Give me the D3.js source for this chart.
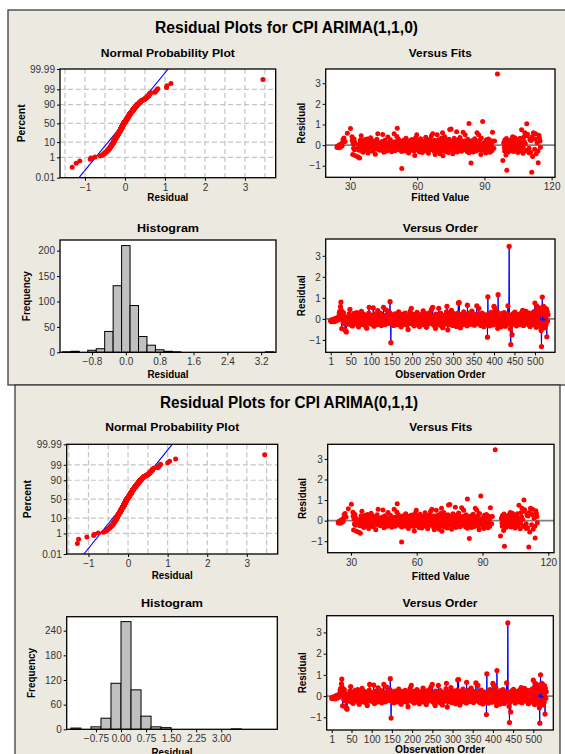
<!DOCTYPE html>
<html>
<head>
<meta charset="utf-8">
<title>Residual Plots for CPI</title>
<script src="https://cdn.jsdelivr.net/npm/d3@7"></script>
<style>
    body { margin: 0; background: #ffffff; }
    #residual-plots svg { display: block; }
    .tick text { font-family: "Liberation Sans", Arial, sans-serif; font-size: 10px; fill: #333; }
    .tick line { stroke: #000; }
    .grid { stroke: #c4c4c4; stroke-width: 1.2; stroke-dasharray: 5,3; }
</style>
</head>
<body>
<div id="residual-plots"><svg></svg></div>
<script>
// residuals of the CPI ARIMA(1,1,0) model in hundredths, observation order 1..532
const residualsArima110 = [
    -9,-11,-6,-12,-8,-4,-10,-7,-2,-13,-5,-8,3,-6,-9,-1,4,-4,6,-3,
    12,28,35,18,58,80,41,-46,22,8,-15,30,14,-22,6,-52,-18,-57,-62,-25,
    -12,5,-20,10,-8,24,-14,45,-5,-28,3,-10,16,-34,-2,8,-18,26,-7,-3,
    14,-9,-24,2,30,-15,-6,11,-38,7,-1,-21,19,-11,4,36,-26,-4,9,-16,
    -8,22,1,-30,-13,6,15,-2,-44,12,-19,3,-9,28,55,-22,-6,10,-14,2,
    -25,8,-3,18,52,-11,-35,4,-7,24,-17,0,13,-28,-5,39,-12,7,-20,-1,
    9,-15,26,-4,-32,11,-8,3,-23,55,-10,16,-2,-27,6,-13,42,-6,-18,1,
    14,-21,5,-9,30,82,-17,-113,20,-4,-26,11,-7,0,-31,8,-14,24,-3,-19,
    6,-11,17,-28,2,-6,33,-16,-1,12,-22,4,-38,9,-13,21,-8,-3,15,-25,
    3,-10,27,-17,-5,10,-29,1,-12,-50,18,-7,-21,5,36,-14,-2,50,-9,-24,
    11,-4,-18,22,-33,0,8,-15,14,-6,-27,31,-10,3,-20,16,-1,-36,7,-12,
    20,-8,-23,4,12,-16,38,-5,-28,9,-2,-13,25,-19,-40,2,17,-7,-24,6,
    -11,29,-3,-20,10,-9,44,-15,1,55,-26,-6,14,-32,5,-17,-45,23,-4,8,
    -14,19,-22,0,50,-10,-29,12,-5,26,-18,3,-35,9,-42,-7,16,-12,2,-25,
    13,-3,-21,34,60,-16,-52,7,-9,21,-27,1,-13,18,-6,40,-19,4,-31,10,
    -8,25,-15,-2,11,-24,6,-36,15,-11,2,28,76,-20,78,-7,12,-42,-4,20,
    -17,5,-28,9,-1,33,-14,-6,18,-23,3,-10,22,-33,65,-5,-19,8,-12,27,
    -3,-26,14,-9,1,37,-20,6,-15,24,-7,-30,11,-2,17,-22,4,62,-13,-5,
    20,-11,50,-24,3,-8,15,-31,9,-16,28,-4,-19,7,-37,12,-1,-23,19,-10,
    5,-27,13,-87,105,-18,22,-6,-33,10,-14,2,31,-21,-3,16,-29,8,-9,60,
    -16,50,-5,24,-25,6,-11,35,-45,115,-20,12,-30,3,-8,18,-38,9,-13,26,
    -4,-24,14,-10,30,-17,1,-35,11,-6,21,-27,7,62,-15,20,345,2,-19,-48,
    -122,15,-28,-75,10,-12,25,-8,3,-20,32,-5,-15,9,-33,17,-2,-24,6,-10,
    22,-14,1,-27,13,-7,29,-19,4,40,-11,-31,8,-3,16,-22,0,36,-16,7,
    -9,19,-25,5,-13,27,-4,-36,11,-18,2,24,-7,-28,14,-1,33,-20,9,75,
    -12,38,-40,18,60,-26,5,45,-30,53,-15,30,-38,22,-55,-132,25,104,-35,40,
    60,-20,55,-42,30,12,-28,48,-85,35,-10,20
];

// fitted CPI values, same order
const fitsArima110 = [
    24.2,24.3,24.4,24.5,24.6,24.6,24.8,24.9,25.0,25.1,25.2,25.4,25.5,25.6,25.8,25.9,26.0,26.2,26.3,26.5,
    26.6,26.9,27.3,27.8,28.8,30.2,30.9,31.2,31.0,31.4,31.6,31.8,32.1,32.0,32.3,32.5,32.9,33.6,34.3,34.0,
    34.1,34.3,34.2,34.5,34.7,34.6,34.9,35.0,35.4,35.3,35.5,35.7,35.6,35.9,36.1,36.0,36.3,36.4,36.8,36.9,
    37.0,37.2,37.1,37.3,37.6,37.8,37.7,38.0,38.1,38.0,38.3,38.4,38.6,38.9,39.0,39.2,39.5,39.4,39.6,39.8,
    39.9,40.0,40.3,40.2,40.4,40.7,40.9,41.0,41.3,41.2,41.5,41.6,41.9,42.0,42.4,42.9,42.8,43.0,43.3,43.4,
    43.6,43.9,44.0,44.3,44.6,44.8,45.1,45.0,45.3,45.6,45.8,46.1,46.0,46.4,46.6,46.9,47.1,47.0,47.4,47.6,
    47.8,48.1,48.0,48.4,48.6,48.9,49.1,49.0,49.3,49.7,49.9,50.0,50.2,50.1,50.4,50.6,50.9,51.2,51.0,51.1,
    51.3,51.2,51.5,51.4,51.6,51.1,52.4,53.1,52.2,52.5,52.7,52.6,52.9,53.2,53.1,53.4,53.6,53.9,54.0,54.2,
    54.3,54.5,54.4,54.8,54.9,55.1,55.0,55.5,55.6,55.8,56.0,55.9,56.2,56.1,56.4,56.6,56.9,56.8,57.1,57.4,
    57.5,57.7,57.6,58.0,58.1,58.3,58.6,58.5,58.7,58.9,58.6,58.9,59.1,59.0,59.3,59.7,59.6,59.8,60.3,60.2,
    60.4,60.6,60.7,60.6,61.0,60.8,61.1,61.3,61.2,61.5,61.7,61.5,61.9,62.0,62.1,62.3,62.4,62.3,62.6,62.8,
    62.9,63.2,63.1,63.3,63.6,63.7,63.8,64.2,64.1,64.3,64.5,64.6,64.5,64.9,65.0,64.8,65.2,65.4,65.5,65.4,
    65.7,65.8,66.1,66.0,66.2,66.4,66.3,66.8,66.7,66.9,67.4,67.3,67.5,67.7,67.6,67.9,68.0,67.7,68.1,68.2,
    68.4,68.5,68.8,68.6,68.9,69.4,69.2,69.1,69.4,69.5,69.8,69.7,70.0,69.8,70.2,70.0,70.3,70.6,70.5,70.7,
    70.6,70.9,71.0,70.9,71.3,71.9,71.5,71.2,71.5,71.6,71.9,71.8,72.0,72.1,72.4,72.3,72.8,72.7,72.9,72.7,
    73.0,73.1,73.5,73.3,73.5,73.7,73.6,73.9,73.7,74.0,74.1,74.2,74.5,75.2,75.1,75.8,75.7,75.9,75.6,75.8,
    76.1,76.0,76.2,76.0,76.4,76.5,76.9,76.8,76.9,77.2,77.0,77.3,77.4,77.8,77.6,78.3,78.2,78.1,78.3,78.4,
    78.7,78.8,78.6,78.9,78.9,79.1,79.5,79.4,79.6,79.5,79.9,79.8,79.7,80.0,80.1,80.3,80.2,80.5,81.1,81.0,
    81.1,81.3,81.4,81.9,81.8,81.9,82.0,82.3,82.1,82.4,82.5,82.8,82.9,82.8,83.1,82.9,83.2,83.3,83.2,83.5,
    83.6,83.7,83.9,84.0,83.1,84.5,84.6,84.9,85.0,85.4,85.2,85.5,85.7,85.6,86.1,86.0,86.3,86.6,86.5,86.7,
    87.3,87.4,87.9,87.8,88.1,87.9,88.2,88.6,88.4,89.2,89.9,89.8,90.1,89.9,90.2,90.5,90.6,90.3,90.7,90.9,
    91.0,91.3,91.2,91.6,91.8,92.2,92.1,92.5,92.4,92.8,93.0,93.3,93.2,93.6,94.2,94.5,95.8,99.4,99.7,99.6,
    100.0,98.9,99.0,98.2,98.6,98.9,99.1,99.4,99.3,99.6,99.8,100.3,100.2,100.4,100.6,100.5,100.8,101.0,100.9,101.2,
    101.3,101.4,101.7,101.6,101.9,102.0,102.2,102.5,102.4,102.6,102.9,103.0,102.8,103.1,103.3,103.2,103.5,103.6,103.9,103.8,
    104.0,104.1,104.3,104.2,104.5,104.7,104.6,104.9,105.1,105.0,105.2,105.5,105.4,105.7,105.8,106.0,105.9,106.2,106.4,106.6,
    107.3,107.5,107.2,107.8,108.0,108.5,108.3,108.9,109.4,109.2,109.9,110.3,110.0,110.8,111.5,111.1,110.4,108.9,110.6,111.3,
    111.9,112.4,112.8,113.1,112.7,113.5,113.9,114.3,114.0,114.6,115.0,114.8
];

// ARIMA(0,1,1) residuals only differ visibly at these observations [order, hundredths]
const changedArima011 = [[148, -104], [410, 120], [441, -125], [516, -128], [518, 100]];

// histogram bars: bin midpoint and frequency
const histMidsArima110 = [-1.4, -1.2, -0.8, -0.6, -0.4, -0.2, 0.0, 0.2, 0.4, 0.6, 0.8, 1.0, 1.2, 3.4];
const histCountsArima110 = [1, 2, 4, 7, 41, 131, 210, 92, 31, 14, 5, 2, 1, 1];
const histWidthArima110 = 0.2;
const histMidsArima011 = [-1.35, -0.75, -0.45, -0.15, 0.15, 0.45, 0.75, 1.05, 1.35, 3.45];
const histCountsArima011 = [3, 6, 27, 112, 262, 96, 32, 6, 4, 1];
const histWidthArima011 = 0.3;

// normal line drawn on the probability plots
const normalFitArima110 = {mean: -0.035, sd: 0.30};
const normalFitArima011 = {mean: 0.0, sd: 0.30};

// axis ticks
const percentTicks = [0.01, 1, 10, 50, 90, 99, 99.99];
const percentGrid = [1, 10, 50, 90, 99];
const probResidualTicks = [-1, 0, 1, 2, 3];
const probResidualGrid = [-1.5, -1, -0.5, 0, 0.5, 1, 1.5, 2, 2.5, 3, 3.5];
const residualTicks = [-1, 0, 1, 2, 3];
const fittedTicks = [30, 60, 90, 120];
const orderTicks = [1, 50, 100, 150, 200, 250, 300, 350, 400, 450, 500];
const histTicksArima110 = [-0.8, 0.0, 0.8, 1.6, 2.4, 3.2];
const freqTicksArima110 = [0, 50, 100, 150, 200];
const histTicksArima011 = [-0.75, 0.0, 0.75, 1.5, 2.25, 3.0];
const freqTicksArima011 = [0, 60, 120, 180, 240];

// where things sit in the screenshot (two overlapping Minitab windows)
const layoutArima110 = {
    box: {x: 8, y: 10, w: 575, h: 375},
    title: {text: "Residual Plots for CPI ARIMA(1,1,0)", x: 286.5, y: 33, w: 263},
    prob: {l: 60, r: 275.7, t: 69, b: 177.7, xDom: [-1.625, 3.77], titleY: 56.5, labelY: 201, ylx: 25},
    fits: {l: 325.7, r: 555, t: 69, b: 177.3, xDom: [19.15, 121.5], yDom: [-1.56, 3.69], titleY: 56.5, labelY: 201, ylx: 305},
    hist: {l: 60, r: 276, t: 240, b: 352.3, xDom: [-1.556, 3.55], yDom: [0, 221], titleY: 232, labelY: 378, ylx: 30},
    order: {l: 325.7, r: 555, t: 239, b: 352.3, xDom: [-11.2, 549], yDom: [-1.59, 3.8], titleY: 231.7, labelY: 378, ylx: 305}
};
const layoutArima011 = {
    box: {x: 15, y: 385, w: 545, h: 380},
    title: {text: "Residual Plots for CPI ARIMA(0,1,1)", x: 289, y: 408, w: 258},
    prob: {l: 66.7, r: 277.7, t: 444.3, b: 554, xDom: [-1.55, 3.78], titleY: 431, labelY: 579, ylx: 31},
    fits: {l: 327.7, r: 554, t: 444.3, b: 552.7, xDom: [19.4, 122.6], yDom: [-1.56, 3.71], titleY: 431, labelY: 580, ylx: 306},
    hist: {l: 66.7, r: 277.3, t: 616.7, b: 729.3, xDom: [-1.626, 4.68], yDom: [0, 274], titleY: 606.7, labelY: 756, ylx: 35},
    order: {l: 326.7, r: 553.3, t: 615.7, b: 730, xDom: [-11.4, 549.5], yDom: [-1.6, 3.79], titleY: 607, labelY: 753, ylx: 306}
};

// widths of the bold labels as they appear in the picture
const labelWidths = {
    "Normal Probability Plot": 134, "Versus Fits": 63, "Histogram": 62, "Versus Order": 75,
    "Residual": 41, "Fitted Value": 58, "Observation Order": 90, "Percent": 38, "Frequency": 50
};

//inverse of the standard normal cdf (Acklam), used for the percent axis
function qnorm(p){
    const a = [-39.69683028665376, 220.9460984245205, -275.9285104469687, 138.3577518672690, -30.66479806614716, 2.506628277459239];
    const b = [-54.47609879822406, 161.5858368580409, -155.6989798598866, 66.80131188771972, -13.28068155288572];
    const c = [-0.007784894002430293, -0.3223964580411365, -2.400758277161838, -2.549732539343734, 4.374664141464968, 2.938163982698783];
    const d = [0.007784695709041462, 0.3224671290700398, 2.445134137142996, 3.754408661907416];
    let q, r;
    if (p < 0.02425) {
        q = Math.sqrt(-2 * Math.log(p));
        return (((((c[0]*q+c[1])*q+c[2])*q+c[3])*q+c[4])*q+c[5]) / ((((d[0]*q+d[1])*q+d[2])*q+d[3])*q+1);
    }
    if (p > 1 - 0.02425) {
        q = Math.sqrt(-2 * Math.log(1 - p));
        return -(((((c[0]*q+c[1])*q+c[2])*q+c[3])*q+c[4])*q+c[5]) / ((((d[0]*q+d[1])*q+d[2])*q+d[3])*q+1);
    }
    q = p - 0.5;
    r = q * q;
    return (((((a[0]*r+a[1])*r+a[2])*r+a[3])*r+a[4])*r+a[5])*q / (((((b[0]*r+b[1])*r+b[2])*r+b[3])*r+b[4])*r+1);
}

function addText(g, str, x, y, size, rotate){
    let t = g.append("text")
        .attr("x", x)
        .attr("y", y)
        .attr("text-anchor", "middle")
        .style("font-family", '"Liberation Sans", Arial, sans-serif')
        .style("font-weight", "bold")
        .style("font-size", size + "px")
        .attr("fill", "#000")
        .text(str);
    if (labelWidths[str]) {
        t.attr("textLength", labelWidths[str]).attr("lengthAdjust", "spacingAndGlyphs");
    }
    if (rotate) {
        t.attr("transform", "rotate(-90," + x + "," + y + ")");
    }
    return t;
}

let clipCount = 0;

function ResidualPanel(svg, layout, residuals, fits, histMids, histCounts, histWidth, normalFit, histTicks, freqTicks, histFormat){
    let self = this;
    self.svg = svg;
    self.layout = layout;
    self.residuals = residuals;
    self.fits = fits;
    self.hist = histMids.map(function(m, i){ return {mid: m, count: histCounts[i]}; });
    self.histWidth = histWidth;
    self.normalFit = normalFit;
    self.histTicks = histTicks;
    self.freqTicks = freqTicks;
    self.histFormat = histFormat;
    self.init();
};

ResidualPanel.prototype.init = function(){
    let self = this;
    let L = self.layout;
    self.g = self.svg.append("g");

    // window background
    self.g.append("rect")
        .attr("x", L.box.x)
        .attr("y", L.box.y)
        .attr("width", L.box.w)
        .attr("height", L.box.h)
        .attr("fill", "#ece9e1")
        .attr("stroke", "#3c3c3c")
        .attr("stroke-width", 1.3);

    addText(self.g, L.title.text, L.title.x, L.title.y, 16)
        .attr("textLength", L.title.w)
        .attr("lengthAdjust", "spacingAndGlyphs");

    self.drawProbability();
    self.drawFits();
    self.drawHistogram();
    self.drawOrder();
};

// white plot area + clip path, returns the clip url
ResidualPanel.prototype.plotArea = function(f){
    let self = this;
    let id = "clip" + (clipCount++);
    self.g.append("clipPath").attr("id", id)
        .append("rect")
        .attr("x", f.l).attr("y", f.t)
        .attr("width", f.r - f.l).attr("height", f.b - f.t);
    self.g.append("rect")
        .attr("x", f.l).attr("y", f.t)
        .attr("width", f.r - f.l).attr("height", f.b - f.t)
        .attr("fill", "#ffffff");
    return "url(#" + id + ")";
};

ResidualPanel.prototype.finish = function(f, x, y, xTicks, yTicks, xFormat, yFormat, title, xLabel, yLabel){
    let self = this;
    let gx = self.g.append("g")
        .attr("transform", "translate(0," + f.b + ")")
        .call(d3.axisBottom(x).tickValues(xTicks).tickFormat(xFormat).tickSize(3).tickSizeOuter(0).tickPadding(3));
    gx.select(".domain").remove();
    let gy = self.g.append("g")
        .attr("transform", "translate(" + f.l + ",0)")
        .call(d3.axisLeft(y).tickValues(yTicks).tickFormat(yFormat).tickSize(3).tickSizeOuter(0).tickPadding(2));
    gy.select(".domain").remove();

    self.g.append("rect")
        .attr("x", f.l).attr("y", f.t)
        .attr("width", f.r - f.l).attr("height", f.b - f.t)
        .attr("fill", "none")
        .attr("stroke", "#000")
        .attr("stroke-width", 1.3);

    let cx = (f.l + f.r) / 2;
    addText(self.g, title, cx, f.titleY, 11.5);
    addText(self.g, xLabel, cx, f.labelY, 10);
    addText(self.g, yLabel, f.ylx, (f.t + f.b) / 2, 10, true);
};

ResidualPanel.prototype.drawProbability = function(){
    let self = this;
    let f = self.layout.prob;
    let zMax = qnorm(0.9999);
    let x = d3.scaleLinear().domain(f.xDom).range([f.l, f.r]);
    let y = d3.scaleLinear().domain([-zMax, zMax]).range([f.b, f.t]);
    let clip = self.plotArea(f);

    self.g.append("g").selectAll("line").data(probResidualGrid).enter().append("line")
        .attr("class", "grid")
        .attr("x1", function(d){ return x(d); })
        .attr("x2", function(d){ return x(d); })
        .attr("y1", f.t)
        .attr("y2", f.b);
    self.g.append("g").selectAll("line").data(percentGrid).enter().append("line")
        .attr("class", "grid")
        .attr("x1", f.l)
        .attr("x2", f.r)
        .attr("y1", function(d){ return y(qnorm(d / 100)); })
        .attr("y2", function(d){ return y(qnorm(d / 100)); });

    // fitted normal line
    let fit = self.normalFit;
    self.g.append("line")
        .attr("clip-path", clip)
        .attr("x1", x(fit.mean - fit.sd * zMax)).attr("y1", y(-zMax))
        .attr("x2", x(fit.mean + fit.sd * zMax)).attr("y2", y(zMax))
        .attr("stroke", "#0000ff")
        .attr("stroke-width", 1.1);

    let sorted = self.residuals.slice().sort(d3.ascending);
    let n = sorted.length;
    self.g.append("g").attr("clip-path", clip)
        .selectAll("circle").data(sorted).enter().append("circle")
        .attr("cx", function(d){ return x(d); })
        .attr("cy", function(d, i){ return y(qnorm((i + 1 - 0.3) / (n + 0.4))); })
        .attr("r", 2.5)
        .attr("fill", "#ff0000");

    self.finish(f, x, y, probResidualTicks,
        percentTicks.map(function(p){ return qnorm(p / 100); }),
        d3.format("d"),
        function(d, i){ return String(percentTicks[i]); },
        "Normal Probability Plot", "Residual", "Percent");
};

ResidualPanel.prototype.drawFits = function(){
    let self = this;
    let f = self.layout.fits;
    let x = d3.scaleLinear().domain(f.xDom).range([f.l, f.r]);
    let y = d3.scaleLinear().domain(f.yDom).range([f.b, f.t]);
    let clip = self.plotArea(f);

    self.g.append("line")
        .attr("x1", f.l).attr("x2", f.r)
        .attr("y1", y(0)).attr("y2", y(0))
        .attr("stroke", "#808080")
        .attr("stroke-width", 1.8);

    self.g.append("g").attr("clip-path", clip)
        .selectAll("circle").data(self.residuals).enter().append("circle")
        .attr("cx", function(d, i){ return x(self.fits[i]); })
        .attr("cy", function(d){ return y(d); })
        .attr("r", 2.5)
        .attr("fill", "#ff0000");

    self.finish(f, x, y, fittedTicks, residualTicks, d3.format("d"), d3.format("d"),
        "Versus Fits", "Fitted Value", "Residual");
};

ResidualPanel.prototype.drawHistogram = function(){
    let self = this;
    let f = self.layout.hist;
    let x = d3.scaleLinear().domain(f.xDom).range([f.l, f.r]);
    let y = d3.scaleLinear().domain(f.yDom).range([f.b, f.t]);
    let w = self.histWidth;
    self.plotArea(f);

    self.g.append("g").selectAll("rect").data(self.hist).enter().append("rect")
        .attr("x", function(d){ return x(d.mid - w / 2); })
        .attr("width", function(d){ return x(d.mid + w / 2) - x(d.mid - w / 2); })
        .attr("y", function(d){ return y(d.count); })
        .attr("height", function(d){ return y(0) - y(d.count); })
        .attr("fill", "#c0c0c0")
        .attr("stroke", "#000")
        .attr("stroke-width", 1);

    self.finish(f, x, y, self.histTicks, self.freqTicks, self.histFormat, d3.format("d"),
        "Histogram", "Residual", "Frequency");
};

ResidualPanel.prototype.drawOrder = function(){
    let self = this;
    let f = self.layout.order;
    let x = d3.scaleLinear().domain(f.xDom).range([f.l, f.r]);
    let y = d3.scaleLinear().domain(f.yDom).range([f.b, f.t]);
    let clip = self.plotArea(f);

    self.g.append("line")
        .attr("x1", f.l).attr("x2", f.r)
        .attr("y1", y(0)).attr("y2", y(0))
        .attr("stroke", "#808080")
        .attr("stroke-width", 1.8);

    let line = d3.line()
        .x(function(d, i){ return x(i + 1); })
        .y(function(d){ return y(d); });
    self.g.append("path")
        .attr("clip-path", clip)
        .attr("d", line(self.residuals))
        .attr("fill", "none")
        .attr("stroke", "#0000ff")
        .attr("stroke-width", 1);

    self.g.append("g").attr("clip-path", clip)
        .selectAll("circle").data(self.residuals).enter().append("circle")
        .attr("cx", function(d, i){ return x(i + 1); })
        .attr("cy", function(d){ return y(d); })
        .attr("r", 2.6)
        .attr("fill", "#ff0000");

    self.finish(f, x, y, orderTicks, residualTicks, d3.format("d"), d3.format("d"),
        "Versus Order", "Observation Order", "Residual");
};

let svg = d3.select("#residual-plots").select("svg")
    .attr("width", 565)
    .attr("height", 754);

let residuals110 = residualsArima110.map(function(d){ return d / 100; });
let residuals011 = residuals110.slice();
changedArima011.forEach(function(c){ residuals011[c[0] - 1] = c[1] / 100; });

new ResidualPanel(svg, layoutArima110, residuals110, fitsArima110,
    histMidsArima110, histCountsArima110, histWidthArima110, normalFitArima110,
    histTicksArima110, freqTicksArima110, d3.format(".1f"));
new ResidualPanel(svg, layoutArima011, residuals011, fitsArima110,
    histMidsArima011, histCountsArima011, histWidthArima011, normalFitArima011,
    histTicksArima011, freqTicksArima011, d3.format(".2f"));
</script>
</body>
</html>
